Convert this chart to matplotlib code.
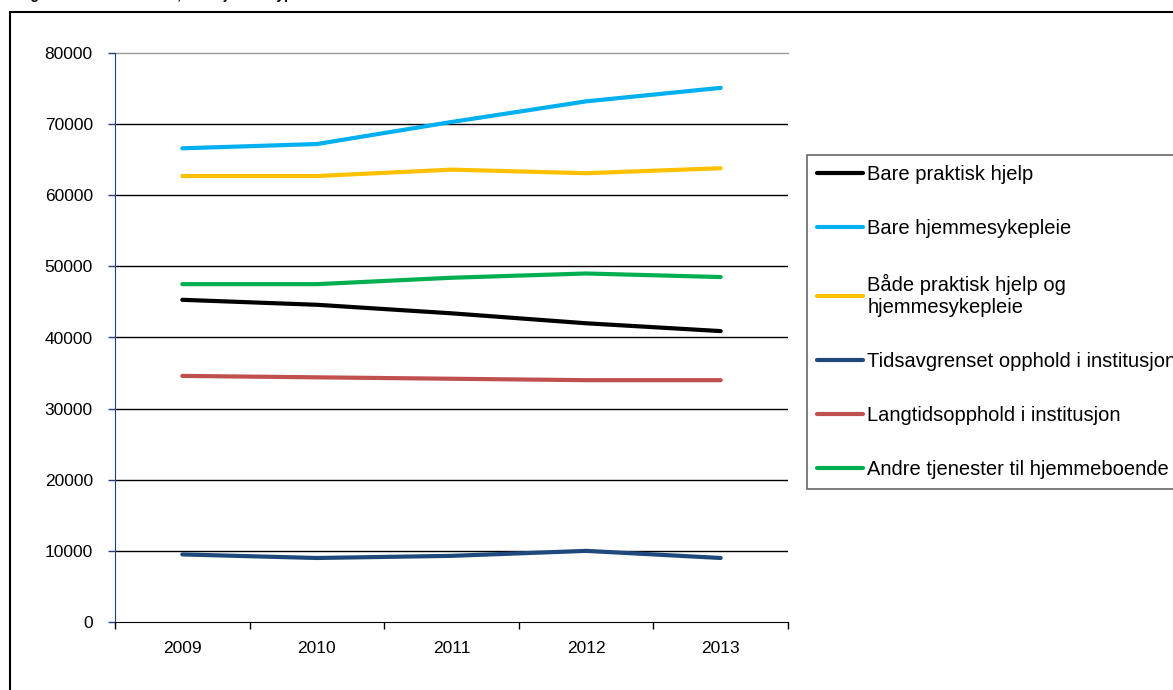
import matplotlib.pyplot as plt
from matplotlib.patches import Rectangle
import numpy as np

plt.rcParams['font.family'] = ['Liberation Sans', 'DejaVu Sans']

years = ['2009', '2010', '2011', '2012', '2013']

bare_praktisk = [45300, 44600, 43400, 42000, 40900]
bare_hjemmesyk = [66600, 67200, 70300, 73200, 75100]
baade = [62700, 62700, 63600, 63100, 63800]
tidsavgrenset = [9500, 9000, 9300, 10000, 9000]
langtid = [34600, 34400, 34200, 34000, 34000]
andre = [47500, 47500, 48400, 49000, 48500]

series = [
    ('Bare praktisk hjelp', bare_praktisk, '#000000'),
    ('Bare hjemmesykepleie', bare_hjemmesyk, '#00B0F0'),
    ('Både praktisk hjelp og\nhjemmesykepleie', baade, '#FFC000'),
    ('Tidsavgrenset opphold i institusjon', tidsavgrenset, '#1F497D'),
    ('Langtidsopphold i institusjon', langtid, '#C0504D'),
    ('Andre tjenester til hjemmeboende', andre, '#00B050'),
]

fig = plt.figure(figsize=(11.73, 6.9), dpi=100)
ax = fig.add_axes([115/1173, 1-622/690, (788-115)/1173, (622-53)/690])

x = np.arange(len(years))
for label, vals, c in series:
    ax.plot(x, vals, color=c, lw=3, label=label, solid_capstyle='round')

ax.set_xlim(-0.5, 4.5)
ax.set_ylim(0, 80000)
ax.set_yticks(np.arange(0, 80001, 10000))
ax.set_xticks(x)
ax.set_xticklabels(years)
ax.set_xticks(np.arange(-0.5, 4.6, 1), minor=True)
ax.tick_params(axis='x', which='major', length=0, pad=14, labelsize=12.5)
ax.tick_params(axis='x', which='minor', length=5, width=1, color='black', direction='out')
ax.tick_params(axis='y', length=5, width=1, color='#1F3F7F', labelsize=12.5, pad=11)

for yv in range(10000, 80000, 10000):
    ax.axhline(yv, color='black', lw=1, zorder=0)
ax.axhline(80000, color='#999999', lw=1, zorder=0, clip_on=False)

for s in ['top', 'right']:
    ax.spines[s].set_visible(False)
ax.spines['left'].set_color('#1F3F7F')
ax.spines['bottom'].set_color('black')

leg = ax.legend(loc='upper left', bbox_to_anchor=(807/1173, 1-155/690),
                bbox_transform=fig.transFigure, fontsize=14.5, frameon=True,
                fancybox=False, edgecolor='#404040', handlelength=2.3,
                handletextpad=0.2, labelspacing=1.75, borderpad=0.5,
                borderaxespad=0)
leg.get_frame().set_linewidth(1.2)

fig.patches.append(Rectangle((10/1173, -0.1), 1.2, 1.1-12/690, transform=fig.transFigure,
                             fill=False, edgecolor='black', lw=1.5))
fig.text(18/1173, 1+1/690, 'Figur 4.1  Antall brukere, etter tjenestetype. 2009-2013',
         fontsize=10, fontweight='bold', va='baseline')

fig.savefig('out.png', dpi=100)
